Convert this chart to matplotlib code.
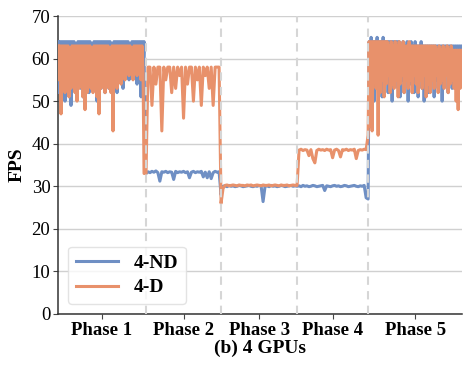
import numpy as np
import matplotlib
matplotlib.use("Agg")
import matplotlib.pyplot as plt

plt.rcParams['font.family'] = ['Liberation Serif', 'DejaVu Serif']

# phase boundaries on the time axis
EDGES = [0, 88, 163, 239, 310, 404]
PHASES = ["Phase 1", "Phase 2", "Phase 3", "Phase 4", "Phase 5"]

# 4-ND (no dynamic) FPS, one list per phase
nd_p1 = [64, 52, 64, 56, 64, 53, 64, 50, 64, 55,
         64, 54, 64, 49, 64, 53, 64, 55, 63, 52,
         64, 56, 64, 53, 64, 51, 64, 55, 64, 54,
         64, 52, 64, 56, 63, 53, 64, 55, 64, 50,
         64, 54, 64, 53, 64, 56, 64, 52, 64, 55,
         64, 53, 64, 57, 63, 54, 64, 56, 64, 52,
         64, 55, 64, 57, 64, 53, 64, 56, 64, 58,
         64, 55, 63, 57, 64, 56, 64, 58, 64, 54,
         64, 56, 64, 51, 64, 57, 64, 33]
nd_p2 = [33, 33.4, 33.2, 33.5, 33.3, 33.6, 33.2, 31.2, 33.4, 33.3, 33.5, 33.2, 33.4, 33.3,
         31.6, 33.5, 33.2, 33.4, 33.3, 33.5, 33.2, 33.4, 32, 33.3, 33.5, 33.2, 33.4, 33.3,
         33.5, 32.2, 33.3, 32.0, 33.4, 31.8, 33.2, 33.5, 33.3, 33.4]
nd_p3 = [28, 30, 30.1, 29.9, 30.2, 30, 30.1, 29.9, 30, 30.2, 30.1, 29.9, 30, 30.1, 30.2, 30,
         29.9, 30.1, 30, 30.2, 30.1, 26.4, 30, 30.1, 29.9, 30.2, 30, 30.1, 29.9, 30, 30.2,
         30.1, 29.9, 30, 30.1, 30.2, 30, 30.1]
nd_p4 = [30, 30.1, 29.9, 30.2, 30, 30.1, 29.9, 30, 30.2, 30.1, 29.9, 30, 30.1, 30.2, 29,
         30.1, 30, 29.9, 30.1, 30.2, 30, 30.1, 29.9, 30, 30.2, 30.1, 29.9, 30, 30.1, 30.2,
         30, 29.9, 30.1, 30, 30.2, 27.3]
nd_p5 = [27, 64, 52, 65, 57, 64, 50, 64, 55, 65,
         53, 64, 58, 64, 51, 65, 54, 64, 56, 64,
         52, 64, 55, 64, 50, 64, 54, 64, 56, 64,
         53, 64, 51, 63, 55, 64, 52, 63, 56, 64,
         50, 63, 54, 64, 57, 63, 52, 64, 55, 63,
         51, 63, 56, 64, 53, 63, 50, 63, 55, 63,
         52, 63, 54, 63, 57, 63, 51, 63, 55, 63,
         53, 63, 56, 63, 50, 63, 54, 63, 57, 63,
         52, 63, 55, 63, 53, 63, 56, 63, 54, 63,
         55, 63, 57, 63, 55]

# 4-D (dynamic) FPS
d_p1 = [63, 55, 63, 47, 63, 53, 63, 52, 63, 54,
        63, 51, 62, 53, 63, 55, 63, 52, 63, 50,
        63, 53, 63, 54, 63, 51, 63, 48, 63, 52,
        63, 55, 63, 53, 62, 52, 63, 54, 63, 51,
        63, 47, 63, 53, 63, 55, 63, 52, 63, 54,
        63, 53, 62, 52, 63, 43, 63, 55, 63, 53,
        63, 56, 63, 54, 63, 57, 63, 55, 63, 58,
        63, 56, 63, 57, 62, 55, 63, 58, 63, 56,
        63, 57, 63, 55, 63, 57, 33, 33]
d_p2 = [33, 58, 58, 49, 58, 54, 58, 58, 43, 58, 55, 58, 58, 52, 58, 53, 58, 56, 58, 46,
        58, 54, 58, 58, 50, 58, 55, 58, 49, 58, 56, 58, 53, 58, 49, 58, 58, 58]
d_p3 = [26, 29.5, 30.2, 30.3, 30.1, 30.2, 30.3, 30.2, 30.1, 30.3, 30.2, 30.2, 30.1, 30.3,
        30.2, 30.3, 30.1, 30.2, 30.3, 30.2, 30.1, 30.3, 30.2, 30.2, 30.3, 30.1, 30.2, 30.3,
        30.2, 30.1, 30.3, 30.2, 30.2, 30.3, 30.1, 30.2, 30.3, 30.2]
d_p4 = [30.2, 38.5, 38.7, 38.4, 38.6, 38.5, 37.2, 38.6, 36.5, 35.5, 38.4, 38.7, 38.5, 38.6,
        38.4, 38.7, 38.5, 38.6, 36.7, 38.5, 38.7, 38.4, 36.9, 38.6, 38.5, 38.7, 38.4, 38.6,
        38.5, 38.7, 36.5, 38.4, 38.6, 38.5, 38.7, 38.6]
d_p5 = [42, 64, 44, 64, 43, 64, 55, 64, 53, 64,
        42, 64, 52, 64, 55, 64, 51, 64, 54, 64,
        56, 63, 52, 64, 54, 63, 53, 64, 55, 63,
        51, 64, 54, 63, 56, 64, 52, 63, 55, 63,
        53, 64, 55, 63, 52, 63, 56, 63, 54, 63,
        52, 63, 55, 63, 53, 63, 56, 63, 51, 63,
        54, 63, 52, 63, 55, 63, 53, 63, 56, 62,
        52, 63, 54, 62, 55, 63, 53, 62, 56, 63,
        52, 62, 54, 63, 55, 62, 53, 62, 50, 62,
        48, 62, 53, 62, 55]


def build(parts):
    xs, ys = [], []
    for i, p in enumerate(parts):
        last = i == len(parts) - 1
        xs.append(np.linspace(EDGES[i], EDGES[i + 1], len(p), endpoint=last))
        ys.append(np.array(p, dtype=float))
    return np.concatenate(xs), np.concatenate(ys)


x_nd, y_nd = build([nd_p1, nd_p2, nd_p3, nd_p4, nd_p5])
x_d, y_d = build([d_p1, d_p2, d_p3, d_p4, d_p5])

fig = plt.figure(figsize=(4.64, 3.65), dpi=100)
ax = fig.add_axes([0.125, 0.14, 0.871, 0.816])

ax.plot(x_nd, y_nd, color="#6F8FC4", lw=2.2, label="4-ND", zorder=3)
ax.plot(x_d, y_d, color="#E8916B", lw=2.2, label="4-D", zorder=4)

for e in EDGES[1:-1]:
    ax.axvline(e, color="#d6d6d6", ls=(0, (4, 3)), lw=1.5, zorder=5)

ax.set_xlim(EDGES[0], EDGES[-1])
ax.set_ylim(0, 70)
ax.set_yticks(range(0, 71, 10))
centers = [(EDGES[i] + EDGES[i + 1]) / 2 for i in range(5)]
ax.set_xticks(centers)
ax.set_xticklabels(PHASES, fontweight="bold", fontsize=13.5)
ax.tick_params(axis="y", labelsize=13.5, length=3.5, color="#444444", pad=2)
ax.tick_params(axis="x", length=3.5, color="#444444", pad=2)
ax.grid(axis="y", color="#d0d0d0", lw=1, zorder=0)
ax.set_axisbelow(True)
for s in ["top", "right"]:
    ax.spines[s].set_visible(False)
for s in ["left", "bottom"]:
    ax.spines[s].set_color("#333333")
    ax.spines[s].set_linewidth(1.1)

ax.set_ylabel("FPS", fontweight="bold", fontsize=14, labelpad=4)
ax.set_xlabel("(b) 4 GPUs", fontweight="bold", fontsize=14, labelpad=1)

leg = ax.legend(loc="lower left", prop={"weight": "bold", "size": 14},
                handlelength=2.2, framealpha=0.8, edgecolor="#dddddd",
                borderaxespad=0.5, borderpad=0.4, labelspacing=0.35)

fig.savefig("out.png", dpi=100)
